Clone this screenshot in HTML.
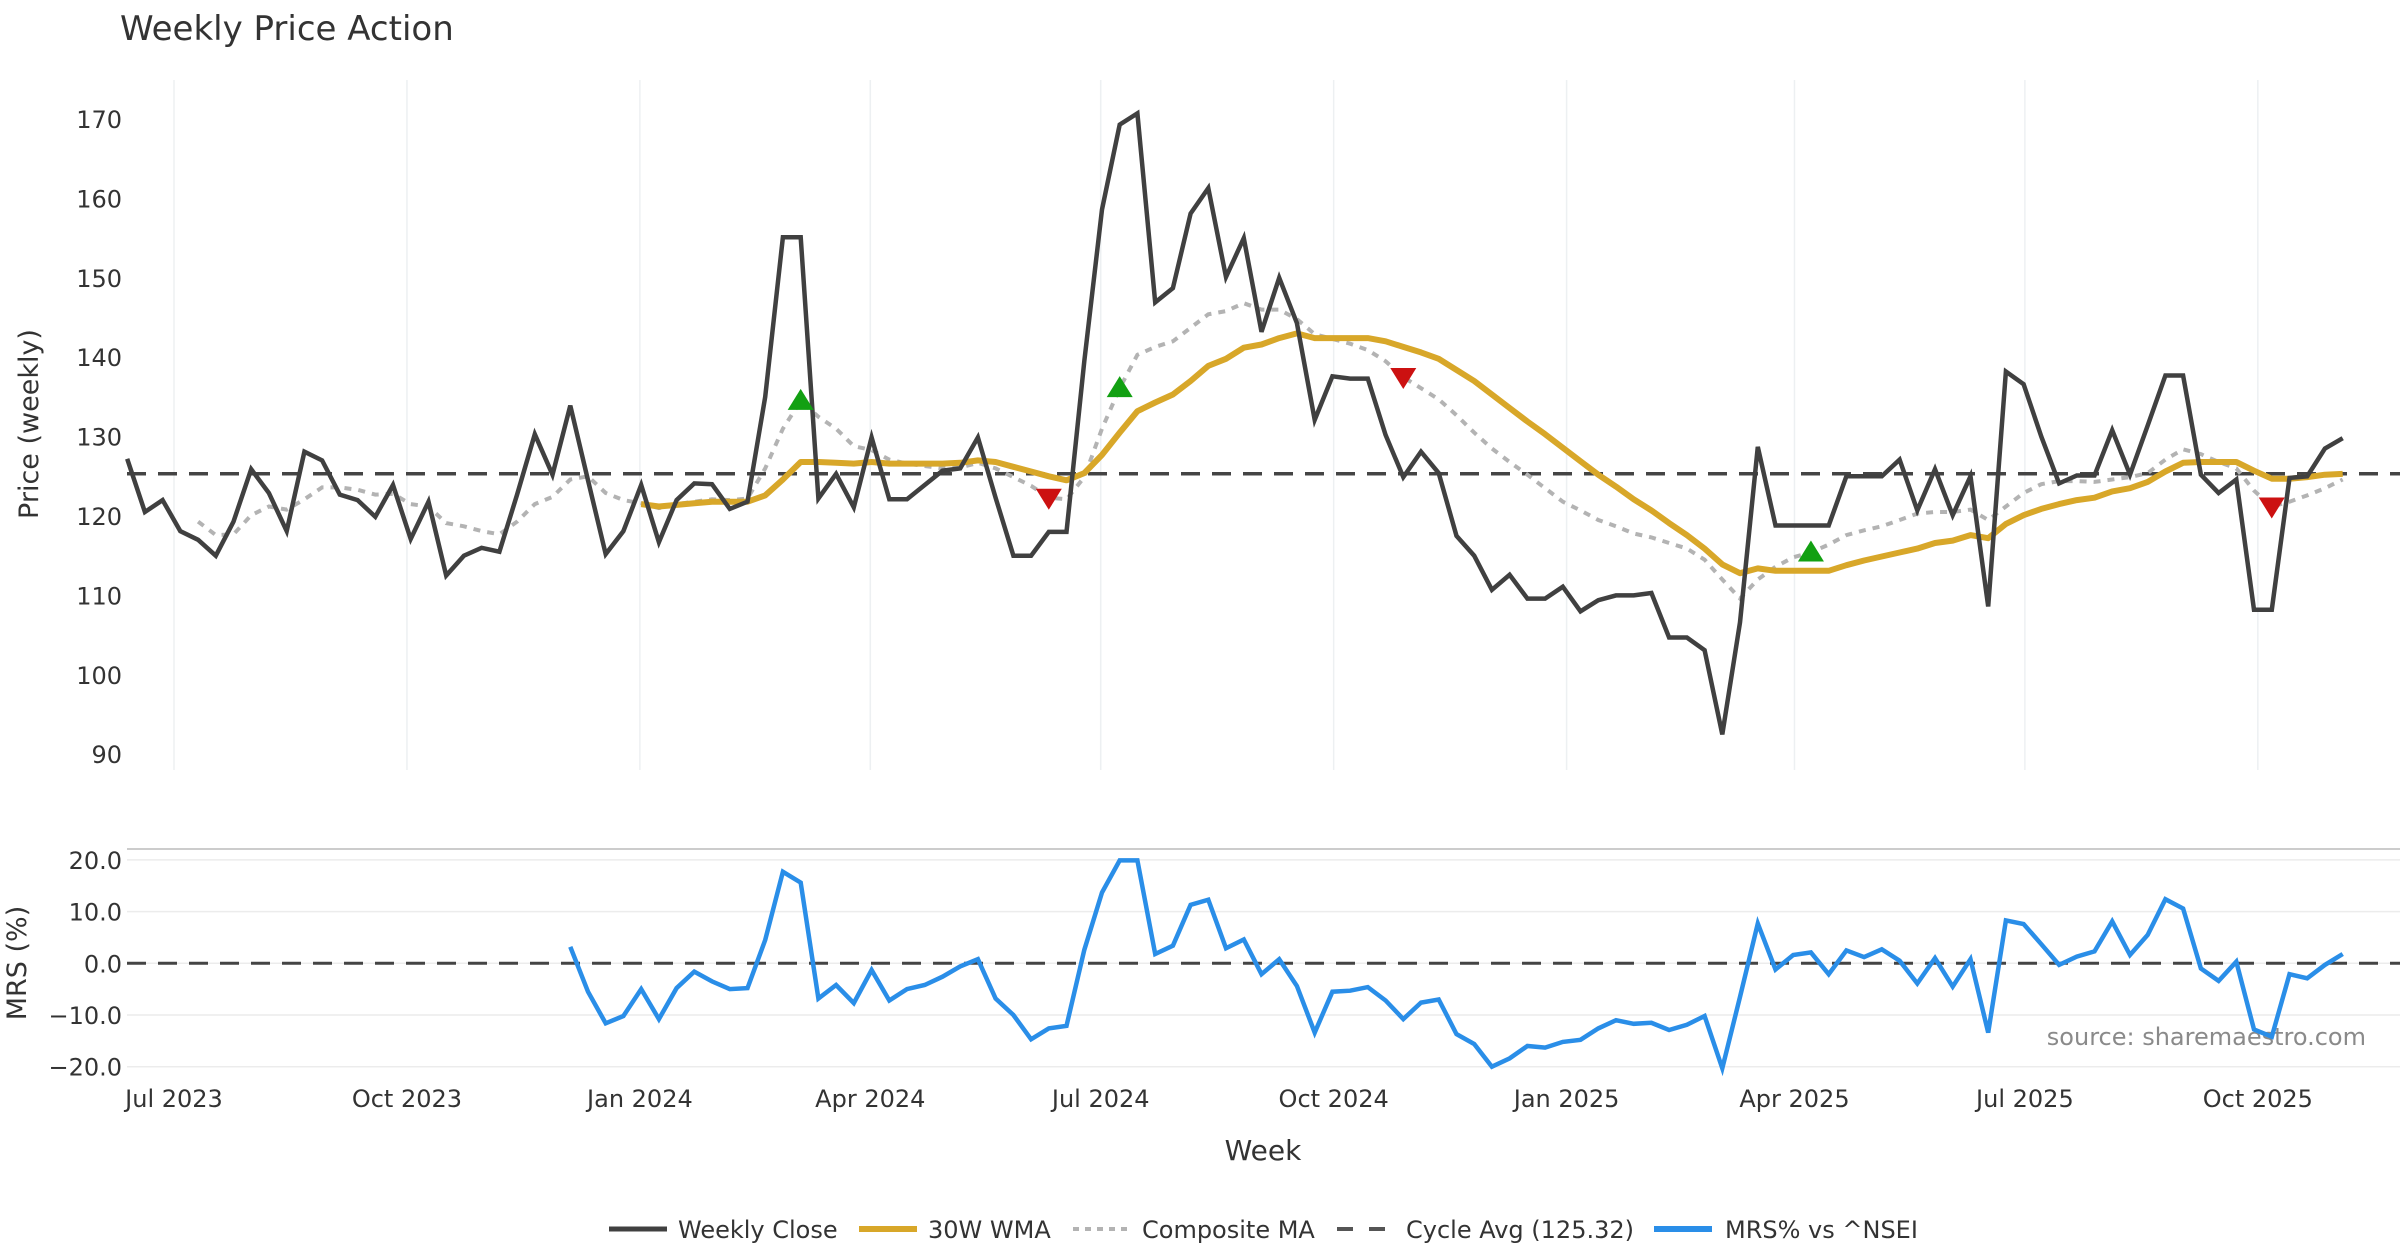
<!DOCTYPE html>
<html><head><meta charset="utf-8"><style>
html,body{margin:0;padding:0;background:#fff;}
svg{display:block;font-family:"DejaVu Sans","Liberation Sans",sans-serif;}
</style></head><body>
<svg id="chart" width="2400" height="1260" viewBox="0 0 2400 1260" xmlns="http://www.w3.org/2000/svg">
<rect width="2400" height="1260" fill="#fff"/>
<text x="120" y="40" font-size="34" fill="#333">Weekly Price Action</text>
<text transform="translate(38,424) rotate(-90)" text-anchor="middle" font-size="27" fill="#333">Price (weekly)</text>
<text transform="translate(26,963) rotate(-90)" text-anchor="middle" font-size="27" fill="#333">MRS (%)</text>
<text x="1263" y="1160" text-anchor="middle" font-size="28" fill="#333">Week</text>
<text x="2366" y="1045" text-anchor="end" font-size="24" fill="#8a8a8a">source: sharemaestro.com</text>
<g id="grid"></g>
<g id="series"></g>
<g id="legend"></g>
</svg>
<script>
const closeVals=[127.2,120.5,122.0,118.1,117.0,115.0,119.3,125.9,122.9,118.1,128.1,127.0,122.7,122.0,119.9,123.9,117.1,121.8,112.5,115.0,116.0,115.5,122.7,130.3,125.2,133.9,124.5,115.2,118.1,123.9,116.7,122.0,124.1,124.0,
120.9,121.8,135.0,155.1,155.1,122.2,125.3,121.1,129.9,122.1,122.1,123.9,125.7,126.0,129.9,122.3,115.0,115.0,118.0,118.0,139.5,158.6,169.3,170.7,146.9,148.7,158.1,161.3,150.1,155.0,143.2,150.0,
144.3,132.1,137.6,137.3,137.3,130.2,124.9,128.1,125.4,117.5,115.0,110.7,112.6,109.6,109.6,111.1,108.0,109.4,110.0,110.0,110.3,104.7,104.7,103.1,92.5,106.6,128.7,118.8,118.8,118.8,118.8,125.0,125.0,
125.0,127.1,120.7,125.9,120.1,125.0,108.6,138.2,136.6,130.0,124.1,125.1,125.1,130.8,125.2,131.4,137.7,137.7,125.2,122.9,124.6,108.2,108.2,124.8,125.0,128.5,129.8];
const compositeVals=[null,null,null,null,119.3,117.6,117.7,120.1,121.2,120.8,122.1,123.6,123.6,123.3,122.7,122.8,121.5,121.2,119.1,118.7,118.1,117.7,119.3,121.5,122.4,124.6,125.0,122.9,122.0,121.6,121.0,121.5,121.8,122.1,
122.0,122.2,126.0,131.0,134.5,132.5,131.0,128.8,128.3,127.1,126.6,126.3,126.0,126.1,126.7,126.0,124.9,123.8,122.3,122.1,124.9,131.0,136.1,140.3,141.3,142.0,143.7,145.4,145.8,146.8,146.0,146.0,
144.8,142.9,142.3,141.7,140.9,139.5,137.5,136.1,134.7,132.7,130.5,128.5,126.8,125.2,123.5,121.8,120.7,119.5,118.7,117.8,117.3,116.6,115.9,114.5,112.0,109.6,112.0,113.6,114.8,115.4,116.4,117.6,118.2,
118.7,119.5,120.3,120.5,120.5,120.8,119.5,121.2,122.9,124.0,124.4,124.4,124.3,124.6,124.9,125.4,127.1,128.4,127.8,126.8,126.0,123.2,121.2,121.8,122.6,123.5,124.6];
const wmaVals=[null,null,null,null,null,null,null,null,null,null,null,null,null,null,null,null,null,null,null,null,null,null,null,null,null,null,null,null,null,
121.5,121.2,121.4,121.6,121.8,121.8,121.8,122.6,124.6,126.8,126.8,126.7,126.6,126.8,126.6,126.6,126.6,126.6,126.7,127.0,126.8,126.2,125.6,125.0,124.5,125.4,127.7,130.5,133.2,134.3,135.3,137.0,138.9,139.8,141.2,141.6,142.4,
143.0,142.4,142.4,142.4,142.4,142.0,141.3,140.6,139.8,138.4,137.0,135.3,133.6,131.9,130.3,128.6,126.9,125.2,123.7,122.1,120.7,119.1,117.6,115.9,113.9,112.8,113.4,113.1,113.1,113.1,113.1,113.8,114.4,
114.9,115.4,115.9,116.6,116.9,117.6,117.2,119.0,120.1,120.9,121.5,122.0,122.3,123.1,123.5,124.3,125.6,126.7,126.8,126.8,126.8,125.7,124.7,124.7,124.9,125.2,125.3];
const mrsVals=[null,null,null,null,null,null,null,null,null,null,null,null,null,null,null,null,null,null,null,null,null,null,null,null,null,
3.2,-5.5,-11.6,-10.2,-5.0,-10.8,-4.8,-1.6,-3.5,-5.0,-4.8,4.5,17.7,15.6,-6.8,-4.2,-7.7,-1.3,-7.2,-5.0,-4.2,-2.6,-0.6,0.8,-6.8,-10.0,-14.7,-12.6,-12.1,2.6,13.7,19.9,19.9,1.8,3.4,11.3,12.3,2.9,4.6,-2.1,0.8,-4.4,-13.4,-5.5,-5.3,-4.6,-7.2,-10.8,-7.6,-7.0,
-13.7,-15.6,-20.0,-18.4,-16.0,-16.3,-15.2,-14.8,-12.6,-11.0,-11.7,-11.5,-12.9,-11.9,-10.2,-20.3,-6.5,7.7,-1.2,1.6,2.1,-2.1,2.5,1.2,2.7,0.5,-3.9,1.0,-4.5,0.8,-13.4,8.3,7.6,3.7,-0.3,1.3,2.3,8.1,1.6,5.5,12.4,10.6,-1.0,-3.4,0.3,-12.8,-14.2,-2.1,-2.9,-0.3,1.8];
const cycleAvg=125.32;
const buyIdx=[38,56,95];
const sellIdx=[52,72,121];
const priceTicks=[170,160,150,140,130,120,110,100,90];
const mrsTicks=[20,10,0,-10,-20];
const mrsTickLabels=["20.0","10.0","0.0","\u221210.0","\u221220.0"];
const quarterLabels=["Jul 2023","Oct 2023","Jan 2024","Apr 2024","Jul 2024","Oct 2024","Jan 2025","Apr 2025","Jul 2025","Oct 2025"];
const quarterDays=[0,92,184,275,366,458,550,640,731,823];

const NS="http://www.w3.org/2000/svg";
const X0=174, PXD=2.532, FIRST_DAY=-18.5;
function xDay(d){return X0+d*PXD;}
function xIdx(i){return xDay(FIRST_DAY+7*i);}
function yP(v){return 119+(170-v)*7.94;}
function yM(v){return 963.3-v*5.17;}
function mk(tag,attrs,parent){const e=document.createElementNS(NS,tag);for(const k in attrs)e.setAttribute(k,attrs[k]);parent.appendChild(e);return e;}
const grid=document.getElementById('grid'), ser=document.getElementById('series'), leg=document.getElementById('legend');

quarterDays.forEach((d,i)=>{
  const x=xDay(d);
  const g1=mk('line',{x1:x,x2:x,y1:80,y2:770,stroke:'#edf0f2','stroke-width':1.5},grid);
  
  
  const t=mk('text',{x:x,y:1107,'text-anchor':'middle','font-size':24,fill:'#333'},grid);
  t.textContent=quarterLabels[i];
  
  
});
priceTicks.forEach(v=>{
  const t=mk('text',{x:122,y:yP(v)+9,'text-anchor':'end','font-size':24,fill:'#333'},grid);
  t.textContent=v;
  
  
});
const sep=mk('line',{x1:127,x2:2400,y1:849,y2:849,stroke:'#cccccc','stroke-width':2},grid);


mrsTicks.forEach((v,i)=>{
  const l=mk('line',{x1:127,x2:2400,y1:yM(v),y2:yM(v),stroke:'#ececec','stroke-width':1.5},grid);
  
  
  const t=mk('text',{x:122,y:yM(v)+9,'text-anchor':'end','font-size':24,fill:'#333'},grid);
  t.textContent=mrsTickLabels[i];
  
  
});
const cyc=mk('line',{x1:127,x2:2400,y1:yP(cycleAvg),y2:yP(cycleAvg),stroke:'#444','stroke-width':3.5,'stroke-dasharray':'19 12'},ser);


const zero=mk('line',{x1:127,x2:2400,y1:yM(0),y2:yM(0),stroke:'#444','stroke-width':3,'stroke-dasharray':'19 12'},ser);



function pathOf(arr,yf){let d='',pen=false;arr.forEach((v,i)=>{if(v==null){pen=false;return;}d+=(pen?'L':'M')+xIdx(i).toFixed(1)+' '+yf(v).toFixed(1);pen=true;});return d;}
const pc=mk('path',{d:pathOf(compositeVals,yP),fill:'none',stroke:'#b3b3b3','stroke-width':4,'stroke-dasharray':'7 7'},ser);


const pw=mk('path',{d:pathOf(wmaVals,yP),fill:'none',stroke:'#d8a729','stroke-width':6,'stroke-linejoin':'round'},ser);


const pcl=mk('path',{d:pathOf(closeVals,yP),fill:'none',stroke:'#404040','stroke-width':4.5,'stroke-linejoin':'miter'},ser);


const pm=mk('path',{d:pathOf(mrsVals,yM),fill:'none',stroke:'#2a8ee8','stroke-width':4.5},ser);



buyIdx.forEach(i=>{
  const x=xIdx(i), y=yP(compositeVals[i]);
  const p=mk('polygon',{points:`${x-13},${y+9} ${x+13},${y+9} ${x},${y-12}`,fill:'#12a012'},ser);
  
  
});
sellIdx.forEach(i=>{
  const x=xIdx(i), y=yP(compositeVals[i]);
  const p=mk('polygon',{points:`${x-13},${y-9} ${x+13},${y-9} ${x},${y+12}`,fill:'#cc1111'},ser);
  
  
});

const legendItems=[
 {n:'legend-weekly-close',lx:609,tx:678,label:'Weekly Close',stroke:'#404040',w:5,dash:''},
 {n:'legend-30w-wma',lx:859,tx:928,label:'30W WMA',stroke:'#d8a729',w:6,dash:''},
 {n:'legend-composite-ma',lx:1073,tx:1142,label:'Composite MA',stroke:'#b3b3b3',w:4,dash:'6 6'},
 {n:'legend-cycle-avg',lx:1337,tx:1406,label:'Cycle Avg (125.32)',stroke:'#555',w:4,dash:'16 16'},
 {n:'legend-mrs',lx:1654,tx:1725,label:'MRS% vs ^NSEI',stroke:'#2a8ee8',w:6,dash:''}
];
legendItems.forEach(it=>{
  const g=mk('g',{},leg);
  
  
  mk('line',{x1:it.lx,x2:it.lx+58,y1:1229,y2:1229,stroke:it.stroke,'stroke-width':it.w,'stroke-dasharray':it.dash},g);
  const t=mk('text',{x:it.tx,y:1238,'font-size':24,fill:'#333'},g);
  t.textContent=it.label;
});
</script>
</body></html>
